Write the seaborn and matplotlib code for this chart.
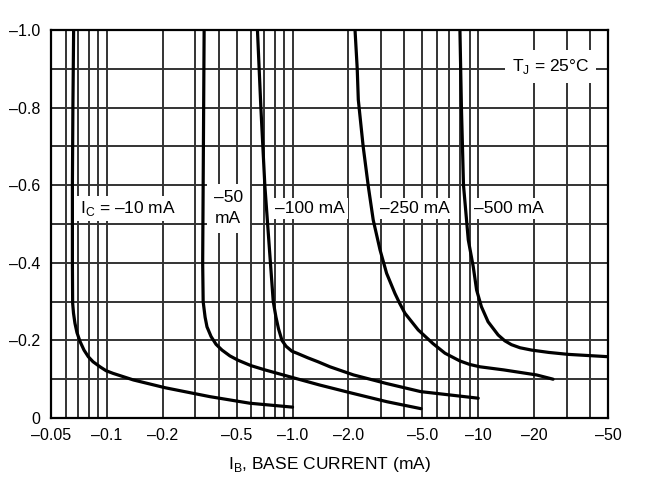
import numpy as np
import pandas as pd
import matplotlib
matplotlib.use("Agg")
import matplotlib.pyplot as plt
from matplotlib.ticker import FixedLocator, NullFormatter
import seaborn as sns

# collector current curves (I_B in mA, V_CE in volts)
ib_10 = [-0.0662, -0.0656, -0.0652, -0.0652, -0.0654, -0.0661, -0.0673, -0.069, -0.0717,
         -0.0753, -0.0794, -0.0842, -0.0918, -0.0989, -0.108, -0.139, -0.206, -0.359,
         -0.59, -1.0]
vce_10 = [-1.0, -0.8, -0.6, -0.4, -0.296, -0.27, -0.244, -0.22, -0.197,
          -0.175, -0.158, -0.145, -0.132, -0.122, -0.115, -0.098, -0.078, -0.055,
          -0.038, -0.028]

ib_50 = [-0.334, -0.332, -0.330, -0.328, -0.330, -0.338, -0.346, -0.364, -0.387,
         -0.417, -0.46, -0.508, -0.597, -0.71, -1.04, -1.40, -2.09, -3.22, -4.92]
vce_50 = [-1.0, -0.8, -0.6, -0.4, -0.3, -0.26, -0.235, -0.21, -0.19,
          -0.175, -0.16, -0.149, -0.135, -0.124, -0.102, -0.085, -0.064, -0.042, -0.024]

ib_100 = [-0.647, -0.675, -0.709, -0.734, -0.76, -0.787, -0.814, -0.84, -0.877, -0.922,
          -0.993, -1.056, -1.21, -1.37, -1.59, -2.13, -3.2, -4.9, -10.0]
vce_100 = [-1.0, -0.8, -0.6, -0.5, -0.4, -0.3, -0.26, -0.23, -0.2, -0.185,
           -0.172, -0.167, -0.155, -0.145, -0.132, -0.111, -0.089, -0.068, -0.051]

ib_250 = [-2.17, -2.23, -2.26, -2.40, -2.56, -2.72, -2.96, -3.21, -3.56, -3.78, -4.03, -4.75,
          -5.70, -6.62, -7.97, -9.0, -10.2, -13.7, -20.6, -25.3]
vce_250 = [-1.0, -0.9, -0.82, -0.70, -0.596, -0.51, -0.433, -0.373, -0.321, -0.295, -0.27, -0.227,
           -0.192, -0.167, -0.147, -0.138, -0.132, -0.124, -0.111, -0.10]

ib_500 = [-7.97, -8.12, -8.33, -8.84, -9.40, -9.80, -10.4, -11.3, -12.8, -13.9, -15.1,
          -16.8, -19.4, -24.0, -30.5, -50.0]
vce_500 = [-1.0, -0.8, -0.6, -0.459, -0.39, -0.33, -0.287, -0.248, -0.214, -0.199, -0.189,
           -0.181, -0.175, -0.169, -0.164, -0.158]

curve_names = ["-10 mA", "-50 mA", "-100 mA", "-250 mA", "-500 mA"]
curve_ib = [ib_10, ib_50, ib_100, ib_250, ib_500]
curve_vce = [vce_10, vce_50, vce_100, vce_250, vce_500]

x_ticks = [0.05, 0.1, 0.2, 0.5, 1.0, 2.0, 5.0, 10, 20, 50]
x_tick_labels = ["–0.05", "–0.1", "–0.2", "–0.5", "–1.0", "–2.0", "–5.0", "–10", "–20", "–50"]
y_ticks = [0, -0.2, -0.4, -0.6, -0.8, -1.0]
y_tick_labels = ["0", "–0.2", "–0.4", "–0.6", "–0.8", "–1.0"]

rows = []
for name, ib, vce in zip(curve_names, curve_ib, curve_vce):
    for a, b in zip(ib, vce):
        rows.append({"curve": name, "ib": abs(a), "vce": b})
df = pd.DataFrame(rows)

sns.set_theme(style="white")
plt.rcParams["font.family"] = ["Liberation Sans", "DejaVu Sans"]
plt.rcParams["mathtext.fontset"] = "custom"
plt.rcParams["mathtext.rm"] = "Liberation Sans"
plt.rcParams["text.color"] = "black"
plt.rcParams["axes.labelcolor"] = "black"
plt.rcParams["xtick.color"] = "black"
plt.rcParams["ytick.color"] = "black"

fig = plt.figure(figsize=(6.53, 5.0), dpi=100)
ax = fig.add_axes([51 / 653, 82 / 500, 557 / 653, 388 / 500])

sns.lineplot(data=df, x="ib", y="vce", hue="curve", palette=["black"] * 5,
             estimator=None, sort=False, legend=False, lw=2.3, ax=ax, zorder=3)
for ln in ax.lines:
    ln.set_solid_joinstyle("round")

ax.set_xscale("log")
ax.set_xlim(0.05, 50)
ax.set_ylim(0, -1.0)

minor_x = [m * 10.0 ** e for e in (-2, -1, 0, 1) for m in range(1, 10)]
minor_x = [v for v in minor_x if 0.05 < v < 50]
ax.xaxis.set_major_locator(FixedLocator(x_ticks))
ax.xaxis.set_minor_locator(FixedLocator(minor_x))
ax.xaxis.set_minor_formatter(NullFormatter())
ax.set_xticklabels(x_tick_labels)
ax.set_yticks(y_ticks)
ax.set_yticklabels(y_tick_labels)
ax.yaxis.set_minor_locator(FixedLocator([-0.1, -0.3, -0.5, -0.7, -0.9]))

ax.set_axisbelow(True)
ax.grid(which="both", axis="both", color="#333333", lw=1.4)
ax.tick_params(which="both", length=0)
ax.tick_params(axis="x", pad=7, labelsize=11.5)
ax.tick_params(axis="y", pad=8, labelsize=11.5)
for s in ax.spines.values():
    s.set_color("black")
    s.set_linewidth(1.6)

ax.set_xlabel(r"I$_\mathregular{B}$, BASE CURRENT (mA)", fontsize=12.5, labelpad=9)
ax.set_ylabel("")

box = dict(facecolor="white", edgecolor="none", pad=2.5)
ax.text(0.072, -0.54, r"I$_\mathregular{C}$ = –10 mA", fontsize=12.5, ha="left", va="center",
        bbox=box, zorder=2)
ax.text(0.45, -0.54, "–50\nmA", fontsize=12.5, ha="center", va="center", linespacing=1.5,
        bbox=dict(facecolor="white", edgecolor="none", pad=5), zorder=2)
ax.text(0.80, -0.54, "–100 mA", fontsize=12.5, ha="left", va="center", bbox=box, zorder=2)
ax.text(2.96, -0.54, "–250 mA", fontsize=12.5, ha="left", va="center", bbox=box, zorder=2)
ax.text(9.5, -0.54, "–500 mA", fontsize=12.5, ha="left", va="center", bbox=box, zorder=2)
ax.text(15.2, -0.905, r"T$_\mathregular{J}$ = 25°C", fontsize=12.5, ha="left", va="center",
        bbox=dict(facecolor="white", edgecolor="none", pad=5), zorder=2)

fig.savefig("out.png", dpi=100)
